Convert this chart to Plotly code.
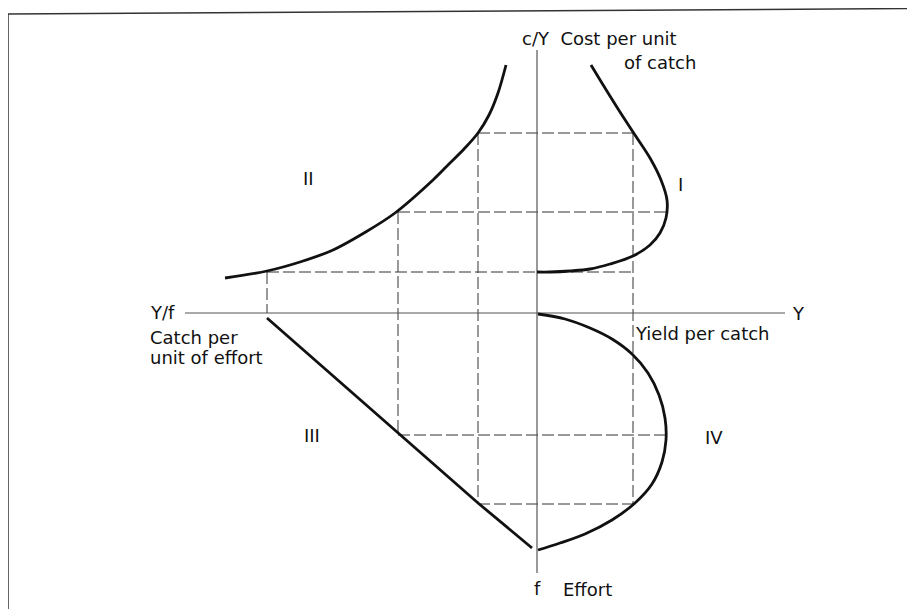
import plotly.graph_objects as go

# Quadrant I: cost per unit of catch (c/Y) vs yield (Y)
q1_yield = [0, 13, 33, 53, 73, 96, 113, 123, 129, 130, 124, 113, 98, 83, 68, 54]
q1_cost = [41, 41, 42, 44, 49, 57, 68, 80, 95, 113, 133, 155, 178, 201, 225, 248]

# Quadrant II: c/Y vs catch per unit of effort (Y/f, plotted leftwards)
q2_cpue = [-312, -270, -237, -204, -173, -142, -104, -88, -73, -59, -48, -39, -31]
q2_cost = [35, 42, 51, 63, 80, 100, 133, 149, 164, 180, 198, 220, 248]

# Quadrant III: Y/f vs effort (f, plotted downwards)
q3_cpue = [-270, -139, -59, -5]
q3_effort = [-5, -120, -190, -235]

# Quadrant IV: yield vs effort
q4_yield = [1, 28, 53, 75, 95, 111, 122, 128, 129, 125, 115, 98, 75, 48, 23, 1]
q4_effort = [-1, -6, -15, -26, -41, -60, -82, -105, -127, -149, -171, -190,
             -207, -221, -230, -237]

# dashed construction lines: (x0, x1, y) and (x, y0, y1)
guide_h = [(-59, 96, 180), (-139, 129, 101), (-270, 96, 41),
           (-139, 129, -122), (-59, 96, -191)]
guide_v = [(96, 180, -191), (-59, 180, -191), (-139, 101, -122), (-270, 41, 0)]

FONT = "DejaVu Sans"
INK = "#111111"

fig = go.Figure()

gx, gy = [], []
for x0, x1, y in guide_h:
    gx += [x0, x1, None]
    gy += [y, y, None]
for x, y0, y1 in guide_v:
    gx += [x, x, None]
    gy += [y0, y1, None]

fig.add_trace(go.Scatter(
    x=gx, y=gy, mode="lines",
    line=dict(color="#333333", width=1, dash="12px,4px"),
    hoverinfo="skip"
))

# axes
fig.add_trace(go.Scatter(
    x=[-352, 248, None, 0, 0], y=[0, 0, None, 263, -260],
    mode="lines", line=dict(color="#555555", width=1.2), hoverinfo="skip"
))

for xs, ys, shape in [(q1_yield, q1_cost, "spline"),
                      (q2_cpue, q2_cost, "spline"),
                      (q3_cpue, q3_effort, "linear"),
                      (q4_yield, q4_effort, "spline")]:
    fig.add_trace(go.Scatter(
        x=xs, y=ys, mode="lines",
        line=dict(color=INK, width=2.8, shape=shape),
        hoverinfo="skip"
    ))

labels = [
    ("c/Y  Cost per unit", -17, 275, "left"),
    ("of catch", 85, 251, "left"),
    ("II", -229, 135, "center"),
    ("I", 143, 129, "center"),
    ("III", -225, -122, "center"),
    ("IV", 177, -124, "center"),
    ("Y/f", -389, 1, "left"),
    ("Catch per", -389, -24, "left"),
    ("unit of effort", -389, -44, "left"),
    ("Y", 253, 0, "left"),
    ("Yield per catch", 96, -20, "left"),
    ("f", 0, -275, "center"),
    ("Effort", 24, -276, "left"),
]
for text, x, y, anchor in labels:
    fig.add_annotation(
        x=x, y=y, text=text, showarrow=False,
        xanchor=anchor, yanchor="middle",
        font=dict(family=FONT, size=18, color=INK)
    )

# scanned page frame
fig.add_shape(type="line", xref="paper", yref="paper",
              x0=0.0, y0=1 - 6 / 601, x1=1.0, y1=1 - 0.5 / 601,
              line=dict(color="#333333", width=1.5))
fig.add_shape(type="line", xref="paper", yref="paper",
              x0=0.0, y0=1 - 6 / 601, x1=0.0, y1=0,
              line=dict(color="#333333", width=1.5))

# page body adds an 8px margin, so the figure is 8px smaller on each side
fig.update_layout(
    width=907, height=601,
    margin=dict(l=0, r=0, t=0, b=0),
    paper_bgcolor="white", plot_bgcolor="white",
    showlegend=False,
    xaxis=dict(range=[-529, 378], visible=False, fixedrange=True),
    yaxis=dict(range=[-296, 305], visible=False, fixedrange=True),
)

fig.write_html("out.html")
